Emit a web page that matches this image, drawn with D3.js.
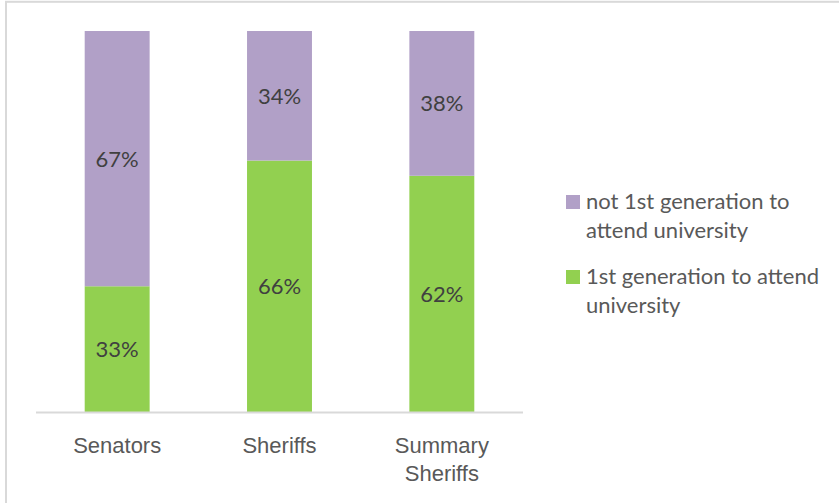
<!DOCTYPE html>
<html>
<head>
<meta charset="utf-8">
<script src="https://cdn.jsdelivr.net/npm/d3@7"></script>
<style>
  html, body { margin: 0; padding: 0; background: #fff; }
  svg { display: block; font-family: Lato, "Open Sans", sans-serif; }
</style>
</head>
<body>
<svg id="chart" width="839" height="503"></svg>
<script>
// ---- data ----
const categories = ["Senators", "Sheriffs", "Summary Sheriffs"];
const categoryLines = [["Senators"], ["Sheriffs"], ["Summary", "Sheriffs"]];
const firstGen = [33, 66, 62];
const notFirstGen = [67, 34, 38];
const seriesNames = ["1st generation to attend university", "not 1st generation to attend university"];
const legendLines = [["not 1st generation to", "attend university"], ["1st generation to attend", "university"]];
const valueLabels = v => v + "%";

// ---- styles ----
const colGreen = "#92D050";
const colPurple = "#B1A0C7";
const fontSize = 22;

const svg = d3.select("#chart");

// chart border
svg.append("rect")
  .attr("x", 6).attr("y", 1.8)
  .attr("width", 1000).attr("height", 1000)
  .attr("fill", "none").attr("stroke", "#d9d9d9").attr("stroke-width", 2);

const x = d3.scaleBand().domain(categories).range([36, 523]).paddingInner(0.6).paddingOuter(0.3);
const y = d3.scaleLinear().domain([0, 100]).range([412, 31]);

const rows = categories.map((c, i) => ({cat: c, first: firstGen[i], notFirst: notFirstGen[i]}));
const stack = d3.stack().keys(["first", "notFirst"])(rows);
const colors = [colGreen, colPurple];

const layers = svg.append("g").selectAll("g").data(stack).join("g")
  .attr("fill", (d, i) => colors[i]);

layers.selectAll("rect").data(d => d).join("rect")
  .attr("x", d => x(d.data.cat))
  .attr("width", x.bandwidth())
  .attr("y", d => y(d[1]))
  .attr("height", d => y(d[0]) - y(d[1]));

// data labels
layers.each(function(layer) {
  d3.select(this).selectAll("text").data(layer).join("text")
    .attr("x", d => x(d.data.cat) + x.bandwidth() / 2)
    .attr("y", d => (y(d[0]) + y(d[1])) / 2)
    .attr("dy", "0.36em")
    .attr("text-anchor", "middle")
    .attr("fill", "#404040")
    .attr("font-size", fontSize)
    .text(d => valueLabels(d[1] - d[0]));
});

// x axis
const axis = svg.append("g").attr("transform", "translate(0,412.5)")
  .call(d3.axisBottom(x).tickSize(0).tickSizeOuter(0).tickFormat(""));
axis.select(".domain").attr("stroke", "#d9d9d9").attr("stroke-width", 2)
  .attr("d", "M36,0H523");
axis.selectAll(".tick text").remove();
axis.selectAll(".tick").each(function(d, i) {
  const t = d3.select(this).append("text")
    .attr("fill", "#595959")
    .attr("font-size", fontSize)
    .attr("text-anchor", "middle");
  categoryLines[i].forEach((ln, j) => {
    t.append("tspan").attr("x", 0).attr("y", 40 + j * 28).text(ln);
  });
});

// legend
const legendItems = [
  {color: colPurple, lines: legendLines[0], top: 195},
  {color: colGreen, lines: legendLines[1], top: 270}
];
const lg = svg.append("g");
legendItems.forEach(item => {
  lg.append("rect").attr("x", 566).attr("y", item.top).attr("width", 14).attr("height", 14).attr("fill", item.color);
  const t = lg.append("text").attr("fill", "#595959").attr("font-size", fontSize);
  item.lines.forEach((ln, j) => {
    t.append("tspan").attr("x", 586).attr("y", item.top + 14 + j * 28.5).text(ln);
  });
});
</script>
</body>
</html>
